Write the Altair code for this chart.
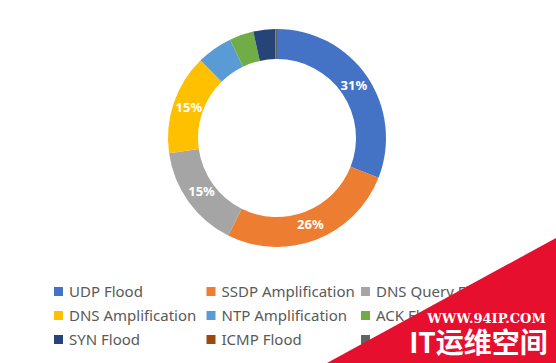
import altair as alt
import pandas as pd

categories = ["UDP Flood", "SSDP Amplification", "DNS Query Flood",
              "DNS Amplification", "NTP Amplification", "ACK Flood",
              "SYN Flood", "ICMP Flood", "Other"]
values = [31, 26.5, 15.4, 14.9, 5.3, 3.6, 3.2, 0.1, 0.2]
labels = ["31%", "26%", "15%", "15%", "", "", "", "", ""]
colors = ["#4472C4", "#ED7D31", "#A5A5A5", "#FFC000", "#5B9BD5",
          "#70AD47", "#264478", "#9E480E", "#636363"]

wm_small = "WWW.94IP.COM"
wm_big = "IT运维空间"

n = len(categories)
df = pd.DataFrame({
    "cat": categories,
    "val": values,
    "label": labels,
    "idx": list(range(n)),
    "col": [i % 3 for i in range(n)],
    "row": [i // 3 for i in range(n)],
})

color_enc = alt.Color("cat:N", scale=alt.Scale(domain=categories, range=colors),
                      sort=categories, legend=None)

CX, CY = 277, 138

base = alt.Chart(df).encode(
    theta=alt.Theta("val:Q", stack=True),
    order=alt.Order("idx:Q"),
)
arcs = base.mark_arc(outerRadius=109, innerRadius=79).encode(
    color=color_enc, x=alt.value(CX), y=alt.value(CY)
)
arc_text = base.mark_text(radius=93, fontSize=13, fontWeight="bold",
                          color="white", font="Noto Sans").encode(
    text="label:N", x=alt.value(CX), y=alt.value(CY)
)

xs = alt.X("col:Q", scale=alt.Scale(domain=[0, 1, 2], range=[58.5, 211, 365.5]), axis=None)
ys = alt.Y("row:Q", scale=alt.Scale(domain=[0, 2], range=[291.5, 339.5]), axis=None)

leg_sq = alt.Chart(df).mark_square(size=81, opacity=1).encode(
    x=xs, y=ys, color=color_enc
)
leg_tx = alt.Chart(df).mark_text(align="left", baseline="middle", dx=10.5,
                                 fontSize=15, color="#595959",
                                 font="Noto Sans").encode(
    x=xs, y=ys, text="cat:N"
)

tri_df = pd.DataFrame({"tx": [327, 556], "ty": [363, 238], "tb": [363, 363]})
tri = alt.Chart(tri_df).mark_area(color="#E60F2D").encode(
    x=alt.X("tx:Q", scale=None, axis=None),
    y=alt.Y("ty:Q", scale=None, axis=None),
    y2=alt.Y2("tb:Q"),
)

wm1 = alt.Chart(pd.DataFrame({"t": [wm_small]})).mark_text(
    font="DejaVu Serif", fontWeight="bold", fontSize=13, color="white",
    align="center", baseline="middle"
).encode(text="t:N", x=alt.value(486.5), y=alt.value(318.5))

wm2 = alt.Chart(pd.DataFrame({"t": [wm_big]})).mark_text(
    font="Noto Sans CJK SC", fontWeight="bold", fontSize=28, color="white",
    align="center", baseline="middle"
).encode(text="t:N", x=alt.value(478.5), y=alt.value(345))

chart = alt.layer(arcs, arc_text, leg_sq, leg_tx, tri, wm1, wm2).resolve_scale(
    x="independent", y="independent"
).properties(
    width=556, height=363, padding=0,
    autosize=alt.AutoSizeParams(type="none"),
    background="white",
).configure_view(stroke=None)

chart.save("out.html", embed_options={"renderer": "svg", "actions": False})
